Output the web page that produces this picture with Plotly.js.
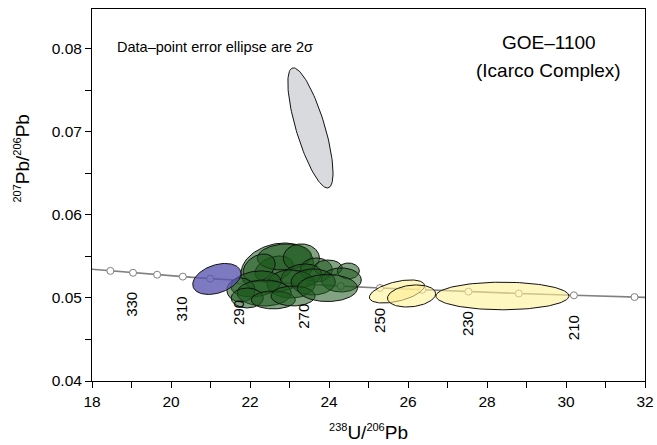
<!DOCTYPE html>
<html>
<head>
<meta charset="utf-8">
<script src="https://cdn.plot.ly/plotly-3.0.1.min.js"></script>
<style>html,body{margin:0;padding:0;background:#fff}#chart{width:657px;height:445px}</style>
</head>
<body>
<div id="chart"></div>
<script>
// Concordia curve (Tera-Wasserburg)
const curveX = [18.0, 18.465, 19.039, 19.649, 20.299, 20.992, 21.733, 22.527, 23.379, 24.297, 25.289, 26.363, 27.531, 28.805, 30.200, 31.735, 32.0];
const curveY = [0.05345, 0.05326, 0.05303, 0.05280, 0.05257, 0.05233, 0.05211, 0.05188, 0.05165, 0.05143, 0.05120, 0.05098, 0.05076, 0.05054, 0.05032, 0.05011, 0.05007];
// Age markers (Ma)
const markAge = [340, 330, 320, 310, 300, 290, 280, 270, 260, 250, 240, 230, 220, 210, 200];
const markX = [18.465, 19.039, 19.649, 20.299, 20.992, 21.733, 22.527, 23.379, 24.297, 25.289, 26.363, 27.531, 28.805, 30.200, 31.735];
const markY = [0.05326, 0.05303, 0.05280, 0.05257, 0.05233, 0.05211, 0.05188, 0.05165, 0.05143, 0.05120, 0.05098, 0.05076, 0.05054, 0.05032, 0.05011];
const labelAges = [330, 310, 290, 270, 250, 230, 210];

// Error ellipses: centre, 2-sigma half-widths, correlation, group
const ellX   = [22.69, 22.61, 22.87, 23.30, 22.23, 23.68, 23.98, 24.49, 24.31, 23.30, 23.04, 23.60, 22.15, 21.77, 22.36, 21.93, 22.59, 23.09, 23.96, 25.72, 26.09, 28.39, 21.16, 23.53];
const ellY   = [0.05361, 0.05349, 0.05494, 0.05482, 0.05361, 0.05337, 0.05361, 0.05325, 0.05217, 0.05265, 0.05169, 0.05193, 0.05169, 0.05096, 0.05060, 0.05000, 0.04976, 0.05024, 0.05120, 0.05078, 0.05024, 0.05024, 0.05229, 0.07048];
const ellSX  = [0.915, 0.483, 0.686, 0.457, 0.406, 0.406, 0.356, 0.279, 0.508, 0.508, 0.610, 0.559, 0.635, 0.356, 0.686, 0.406, 0.559, 0.559, 0.762, 0.699, 0.610, 1.684, 0.610, 0.572];
const ellSY  = [0.00301, 0.00157, 0.00157, 0.00169, 0.00169, 0.00145, 0.00096, 0.00096, 0.00145, 0.00145, 0.00169, 0.00157, 0.00157, 0.00145, 0.00157, 0.00120, 0.00108, 0.00120, 0.00163, 0.00139, 0.00133, 0.00166, 0.00187, 0.00723];
const ellRho = [0.2, 0.3, 0.1, 0.0, 0.3, 0.0, 0.0, 0.0, 0.0, 0.2, 0.0, 0.0, 0.2, 0.0, 0.0, 0.0, 0.0, 0.0, 0.0, 0.5, 0.2, 0.0, 0.35, -0.75];
const ellGroup = ['g','g','g','g','g','g','g','g','g','g','g','g','g','g','g','g','g','g','g','y','y','y','p','k'];

const fills = {
  g: 'rgba(28,88,28,0.55)',
  y: 'rgba(255,240,150,0.6)',
  p: 'rgba(90,85,175,0.78)',
  k: 'rgba(217,218,221,1)'
};

const FONT = 'Liberation Sans, Arial, Helvetica, sans-serif';
const traces = [];
traces.push({
  x: curveX, y: curveY, mode: 'lines', type: 'scatter',
  line: {color: '#808080', width: 1.6}, hoverinfo: 'skip', showlegend: false
});
traces.push({
  x: markX, y: markY, mode: 'markers', type: 'scatter',
  marker: {size: 7, color: '#ffffff', line: {color: '#808080', width: 1}},
  hoverinfo: 'skip', showlegend: false
});

const N = 120;
for (let i = 0; i < ellX.length; i++) {
  const xs = [], ys = [];
  const r = ellRho[i], q = Math.sqrt(1 - r * r);
  for (let k = 0; k <= N; k++) {
    const t = 2 * Math.PI * k / N;
    xs.push(ellX[i] + ellSX[i] * Math.cos(t));
    ys.push(ellY[i] + ellSY[i] * (r * Math.cos(t) + q * Math.sin(t)));
  }
  traces.push({
    x: xs, y: ys, mode: 'lines', type: 'scatter', fill: 'toself',
    fillcolor: fills[ellGroup[i]], line: {color: '#111111', width: 1},
    hoverinfo: 'skip', showlegend: false
  });
}

const annotations = labelAges.map(a => {
  const idx = markAge.indexOf(a);
  return {
    x: markX[idx], y: markY[idx], xref: 'x', yref: 'y',
    text: String(a), showarrow: false, textangle: -90,
    xanchor: 'center', yanchor: 'middle', yshift: -32, xshift: -1,
    font: {family: FONT, size: 15, color: '#000'}
  };
});
annotations.push({
  xref: 'paper', yref: 'paper', x: 0.041, y: 0.898, xanchor: 'left', yanchor: 'middle',
  text: 'Data\u2013point error ellipse are 2\u03c3', showarrow: false,
  font: {family: FONT, size: 14.5, color: '#000'}
});
annotations.push({
  xref: 'paper', yref: 'paper', x: 0.826, y: 0.909, xanchor: 'center', yanchor: 'middle',
  text: 'GOE\u20131100', showarrow: false,
  font: {family: FONT, size: 19, color: '#000'}
});
annotations.push({
  xref: 'paper', yref: 'paper', x: 0.826, y: 0.836, xanchor: 'center', yanchor: 'middle',
  text: '(Icarco Complex)', showarrow: false,
  font: {family: FONT, size: 19, color: '#000'}
});
// y-axis title (placed as in the reference, above the axis middle)
annotations.push({
  xref: 'paper', yref: 'paper', x: -0.127, y: 0.6, xanchor: 'center', yanchor: 'middle',
  textangle: -90, showarrow: false,
  text: '<sup><span style="font-size:11px">207</span></sup>Pb/<sup><span style="font-size:11px">206</span></sup>Pb',
  font: {family: FONT, size: 19, color: '#000'}
});

const axisFont = {family: FONT, size: 15.5, color: '#000'};
const layout = {
  width: 657, height: 445,
  margin: {l: 92, r: 12, t: 9, b: 64},
  paper_bgcolor: '#fff', plot_bgcolor: '#fff',
  showlegend: false,
  xaxis: {
    range: [18, 32], dtick: 2, tick0: 18, ticks: 'outside', ticklen: 6, tickwidth: 1, tickcolor: '#000',
    showline: true, mirror: true, linecolor: '#000', linewidth: 1, showgrid: false, zeroline: false,
    tickfont: axisFont,
    minor: {dtick: 1, ticks: 'outside', ticklen: 6, tickcolor: '#000', showgrid: false},
    title: {text: '<sup><span style="font-size:11px">238</span></sup>U/<sup><span style="font-size:11px">206</span></sup>Pb', font: {family: FONT, size: 19, color: '#000'}, standoff: 17}
  },
  yaxis: {
    range: [0.04, 0.0848], dtick: 0.01, tick0: 0.04, tickformat: '.2f', ticks: 'outside', ticklen: 6, tickwidth: 1, tickcolor: '#000',
    showline: true, mirror: true, linecolor: '#000', linewidth: 1, showgrid: false, zeroline: false,
    tickfont: axisFont,
    minor: {dtick: 0.005, ticks: 'outside', ticklen: 6, tickcolor: '#000', showgrid: false}
  },
  annotations: annotations
};

Plotly.newPlot('chart', traces, layout, {staticPlot: true, displayModeBar: false});
</script>
</body>
</html>
